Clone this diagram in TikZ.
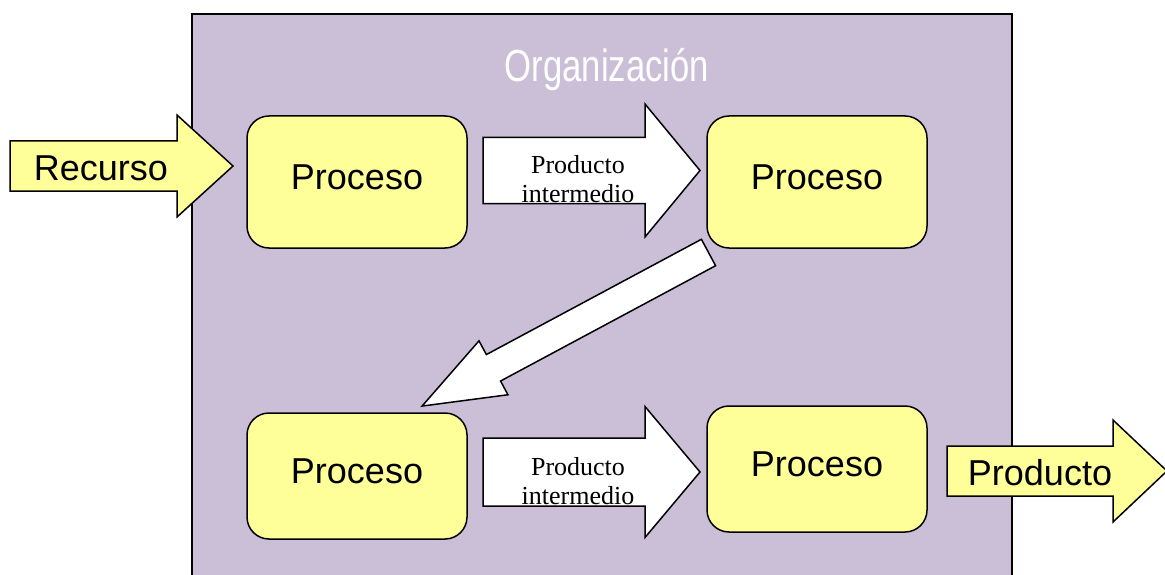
\documentclass[tikz,border=0pt]{standalone}
\usepackage{fontspec}
\setmainfont{Liberation Sans}
\newfontfamily\serifrm{Liberation Serif}
\newfontfamily\narrowsf[FakeStretch=0.77]{Liberation Sans}
\usepackage{xcolor}
\usetikzlibrary{positioning, calc}
\definecolor{orgpurple}{HTML}{CBBFD8}
\definecolor{procyellow}{HTML}{FFFF99}

% block arrow: #1 style, #2 tail centre, #3 length, #4 body half, #5 head half, #6 head length, #7 angle
\newcommand{\blockarrow}[7]{%
  \draw[#1, shift={(#2)}, rotate=#7]
    (0,-#4) -- ({#3-#6},-#4) -- ({#3-#6},-#5) -- (#3,0)
    -- ({#3-#6},#5) -- ({#3-#6},#4) -- (0,#4) -- cycle;}

\begin{document}
\begin{tikzpicture}[x=1pt, y=-1pt,
  proc/.style={draw=black, line width=1.5pt, fill=procyellow, rounded corners=22pt,
    minimum width=220pt, text depth=10pt, font=\fontsize{36}{40}\selectfont},
  yarrow/.style={draw=black, line width=1.5pt, fill=procyellow, line join=miter},
  warrow/.style={draw=black, line width=1.5pt, fill=white, line join=miter},
  biglbl/.style={font=\fontsize{36}{40}\selectfont},
  midlbl/.style={align=center, font=\serifrm\fontsize{26}{29}\selectfont}]

  \useasboundingbox (0,0) rectangle (1165,575);

  %% organisation frame
  \draw[fill=orgpurple, line width=2.2pt] (192,14) rectangle (1012,590);
  \node[text=white, font=\narrowsf\fontsize{45}{50}\selectfont] (orgtitle) at (607,70) {Organización};

  %% block arrows
  \blockarrow{yarrow}{10,166}{223}{25}{51}{56}{0}
  \blockarrow{warrow}{483,170.5}{217}{33}{66.5}{55}{0}
  \blockarrow{warrow}{708.5,252.5}{325}{15}{30.6}{81}{208.2}
  \blockarrow{warrow}{483,472}{217}{34}{65.5}{55}{0}
  \blockarrow{yarrow}{947,471}{220}{25}{51}{54}{0}

  %% processes
  \node[proc, minimum height=132pt] (proc1) at (357,182) {Proceso};
  \node[proc, minimum height=132pt] (proc2) at (817,182) {Proceso};
  \node[proc, minimum height=126pt] (proc3) at (357,476) {Proceso};
  \node[proc, minimum height=126pt] (proc4) at (817,469) {Proceso};

  %% arrow labels
  \node[biglbl] (recurso) at (101,168) {Recurso};
  \node[midlbl] (interm1) at (578,179) {Producto\\intermedio};
  \node[midlbl] (interm2) at (578,481) {Producto\\intermedio};
  \node[biglbl] (producto) at (1040,473) {Producto};

\end{tikzpicture}
\end{document}
